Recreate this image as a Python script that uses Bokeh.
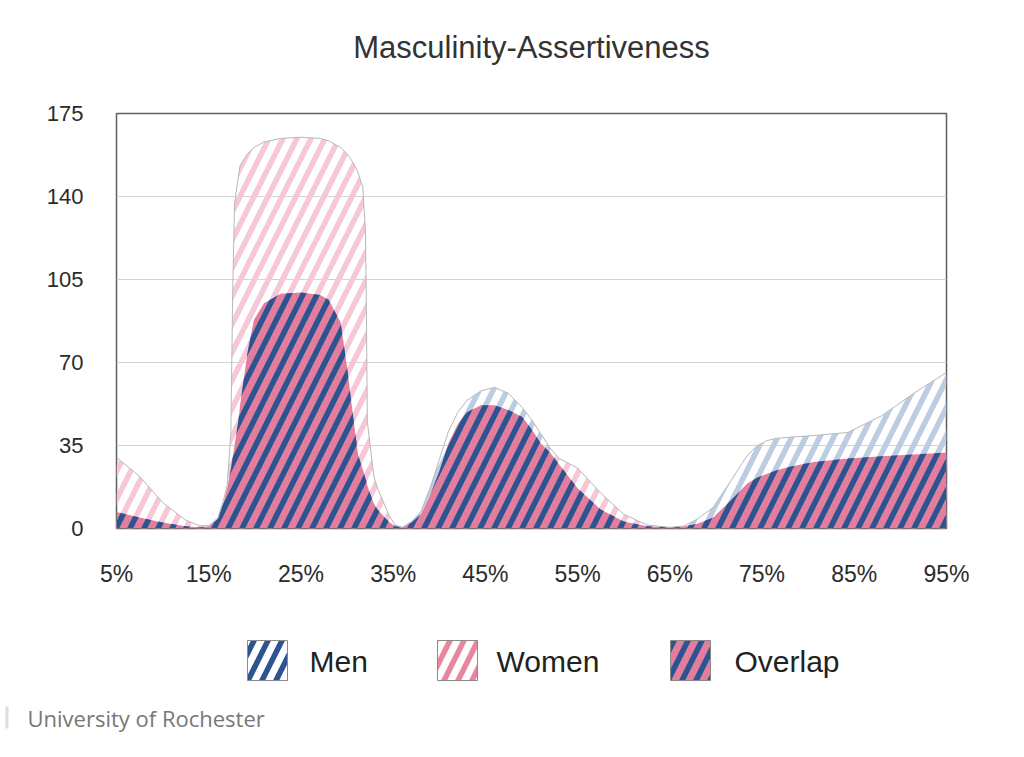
import numpy as np
from bokeh.plotting import figure
from bokeh.layouts import column
from bokeh.models import Range1d, FixedTicker
from bokeh.core.properties import value
from bokeh.embed import file_html
from bokeh.resources import INLINE

# ---- data ----
title_text = "Masculinity-Assertiveness"
source_text = "University of Rochester"

pct = [5, 7.5, 10, 12.5, 14, 15, 16, 16.6, 17.0, 17.4, 17.6, 17.8, 18.2, 18.4, 19.2, 19.9,
       21, 22.8, 25, 27.1, 28, 29.3, 30, 30.7, 31.2, 31.7, 32.0, 32.1, 32.2, 32.9, 33.3,
       34.5, 35.2, 36, 37, 38, 39, 40, 41, 42, 43, 44.5, 46, 47.5, 49, 50, 51, 52, 53,
       55, 57.5, 60, 62.5, 65, 66.5, 68, 69.7, 71.6, 73.4, 74.5, 75.5, 76.5, 78, 80.6,
       84.3, 88, 91.4, 95]

women = [30, 22, 11, 3.5, 1.2, 1.2, 4, 12, 18, 40, 100, 137, 148, 153, 158, 160.7,
         163, 164.5, 165, 164.5, 163.5, 160.7, 158, 154, 150, 144, 125, 90, 45, 22, 17,
         6, 1.5, 0.5, 2.5, 6, 14, 24, 36, 44, 49, 52, 52, 50, 47, 42, 36, 32, 29.5,
         25.5, 15, 6, 1.5, 0.5, 0.8, 2, 4.6, 11.8, 19, 21.5, 23, 24.5, 26, 28,
         29.5, 30.5, 31.2, 32]

men = [7, 4.6, 2.5, 1, 0.4, 1, 4.5, 11, 17, 25, 30, 35, 45, 52, 74, 88,
       95, 99, 99.5, 98.5, 96.5, 87, 68, 46, 31, 25, 21, 20, 18, 10.5, 8,
       3, 1, 0.5, 3, 7, 17, 29, 41, 49, 54, 58, 59.5, 57, 51, 46, 40, 34, 27,
       17, 8, 3, 1, 0.5, 1, 4, 8.9, 20, 30.8, 35, 37, 38, 38.5, 39.2,
       40.5, 47.6, 56.9, 65.8]

x_ticks = [5, 15, 25, 35, 45, 55, 65, 75, 85, 95]
x_tick_labels = ["5%", "15%", "25%", "35%", "45%", "55%", "65%", "75%", "85%", "95%"]
y_ticks = [0, 35, 70, 105, 140, 175]

legend_labels = ["Men", "Women", "Overlap"]

# ---- styling ----
PINK = "#e37d9e"
NAVY = "#2c5491"
PALE_PINK = "#f6c7d5"
PALE_BLUE = "#bccde3"
LEG_PINK = "#e8869f"
FONT = "Liberation Sans"
W = 1008
HS = 28
HW = 5.5


def no_align(f):
    try:
        f.frame_align = False
    except Exception:
        pass
    return f


def blank(height):
    f = figure(width=W, height=height, output_backend="svg", toolbar_location=None,
               x_range=Range1d(0, W), y_range=Range1d(height, 0),
               x_axis_type=None, y_axis_type=None, min_border=0)
    f.outline_line_color = None
    f.background_fill_color = "white"
    f.border_fill_color = "white"
    f.grid.grid_line_color = None
    return no_align(f)


# ---- title strip ----
top = blank(100)
top.text(x=[531], y=[47], text=[title_text], text_align="center", text_baseline="middle",
         text_font=value(FONT), text_font_size=value("31px"), text_color="#333333")

# ---- main chart ----
x = np.array(pct, dtype=float)
w = np.array(women, dtype=float)
m = np.array(men, dtype=float)
overlap = np.minimum(w, m)
outer = np.maximum(w, m)

p = figure(width=W, height=500, output_backend="svg", toolbar_location=None,
           x_range=Range1d(5, 95), y_range=Range1d(0, 175),
           min_border_left=116, min_border_right=62, min_border_top=13,
           min_border_bottom=72)
no_align(p)
p.background_fill_color = "white"
p.border_fill_color = "white"
p.outline_line_color = "#5e5e5e"
p.outline_line_width = 1.5

p.varea(x=x, y1=0, y2=w, fill_color=None, hatch_pattern="/", hatch_color=PALE_PINK,
        hatch_scale=HS, hatch_weight=HW)
p.varea(x=x, y1=0, y2=m, fill_color=None, hatch_pattern="/", hatch_color=PALE_BLUE,
        hatch_scale=HS, hatch_weight=HW)
p.varea(x=x, y1=0, y2=overlap, fill_color=PINK, hatch_pattern="/", hatch_color=NAVY,
        hatch_scale=HS, hatch_weight=HW)
p.line(x=x, y=outer, line_color="#b8b8b8", line_width=1)

p.xgrid.grid_line_color = None
p.ygrid.grid_line_color = "#d4d4d4"
p.ygrid.grid_line_width = 1
p.ygrid.ticker = FixedTicker(ticks=y_ticks)

for ax in (p.xaxis[0], p.yaxis[0]):
    ax.axis_line_color = None
    ax.major_tick_line_color = None
    ax.minor_tick_line_color = None
    ax.major_tick_out = 0
    ax.major_tick_in = 0
    ax.major_label_text_font = FONT
    ax.major_label_text_color = "#2b2b2b"

p.xaxis.major_label_text_font_size = "23px"
p.yaxis.major_label_text_font_size = "22px"
p.xaxis.ticker = FixedTicker(ticks=x_ticks)
p.xaxis.major_label_overrides = {t: l for t, l in zip(x_ticks, x_tick_labels)}
p.xaxis.major_label_standoff = 32
p.yaxis.ticker = FixedTicker(ticks=y_ticks)
p.yaxis.major_label_standoff = 33

# ---- legend + source strip ----
bot = blank(141)
leg_patch_x = [267, 457, 690]
leg_text_x = [309, 496, 734]
bot.rect(x=leg_patch_x[0], y=60, width=40, height=40, fill_color="white", line_color="#8a8a8a",
         hatch_pattern="/", hatch_color=NAVY, hatch_scale=HS, hatch_weight=HW)
bot.rect(x=leg_patch_x[1], y=60, width=40, height=40, fill_color="white", line_color="#8a8a8a",
         hatch_pattern="/", hatch_color=LEG_PINK, hatch_scale=HS, hatch_weight=HW)
bot.rect(x=leg_patch_x[2], y=60, width=40, height=40, fill_color=PINK, line_color="#8a8a8a",
         hatch_pattern="/", hatch_color=NAVY, hatch_scale=HS, hatch_weight=HW)
bot.text(x=leg_text_x, y=[61, 61, 61], text=legend_labels, text_align="left",
         text_baseline="middle", text_font=value(FONT), text_font_size=value("30px"),
         text_color="#222222")

bot.quad(left=5, right=8, top=106, bottom=128, fill_color="#dddddd", line_color=None)
bot.text(x=[27], y=[117], text=[source_text], text_align="left", text_baseline="middle",
         text_font=value("Open Sans"), text_font_size=value("22px"), text_color="#777777")

layout = column(top, p, bot, spacing=0)
open("out.html", "w").write(file_html(layout, INLINE))
